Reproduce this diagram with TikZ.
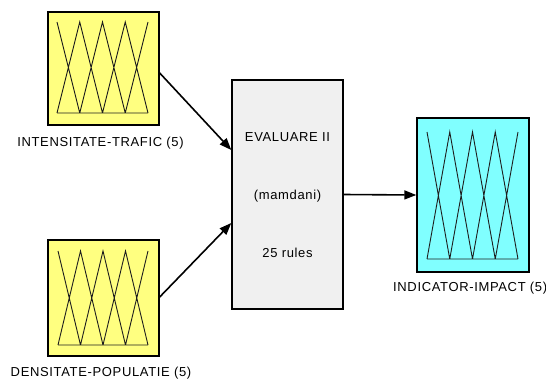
\documentclass[tikz,border=0pt]{standalone}
\usepackage{fontspec}
\setmainfont[LetterSpace=5]{Liberation Sans}
\usetikzlibrary{arrows.meta,calc}

\definecolor{inyellow}{RGB}{255,255,128}
\definecolor{outcyan}{RGB}{128,255,255}
\definecolor{rulegray}{RGB}{240,240,240}
\definecolor{mfline}{RGB}{30,30,30}

\tikzset{
  varbox/.style={draw=black, line width=1.4pt, inner sep=0pt},
  mf/.style={draw=mfline, line width=0.9pt, line join=miter},
  link/.style={draw=black, line width=1.6pt, -{Triangle[length=12pt,width=9pt]}},
  lbl/.style={font=\fontsize{13}{15}\selectfont, inner sep=0pt},
}

% five triangular membership functions inside a variable box
\newcommand\mfgrid[1]{%
  \draw[mf] let \p1=(#1-lo), \p2=(#1-hi), \n1={(\x2-\x1)/4} in
    (\x1,\y2) -- (\x1+\n1,\y1)
    (\x1,\y1) -- (\x1+\n1,\y2) -- (\x1+2*\n1,\y1)
    (\x1+\n1,\y1) -- (\x1+2*\n1,\y2) -- (\x1+3*\n1,\y1)
    (\x1+2*\n1,\y1) -- (\x1+3*\n1,\y2) -- (\x2,\y1)
    (\x1+3*\n1,\y1) -- (\x2,\y2)
    (\x1,\y1) -- (\x2,\y1);
}

\begin{document}
\begin{tikzpicture}[x=1pt,y=-1pt]
\useasboundingbox (0,0) rectangle (546,383);

% input variables
\node[varbox, fill=inyellow, minimum width=111pt, minimum height=113pt] (tl) at (103.5,68.5) {};
\node[varbox, fill=inyellow, minimum width=111pt, minimum height=116pt] (bl) at (103.5,298) {};
% rule block
\node[varbox, fill=rulegray, minimum width=111pt, minimum height=229pt] (cb) at (287.5,194.5) {};
% output variable
\node[varbox, fill=outcyan, minimum width=112pt, minimum height=154pt] (rb) at (473,195) {};

% plotting areas
\coordinate (tl-lo) at (57,113);  \coordinate (tl-hi) at (148,22);
\coordinate (bl-lo) at (58,345);  \coordinate (bl-hi) at (148,251);
\coordinate (rb-lo) at (427,259); \coordinate (rb-hi) at (518,132);
\mfgrid{tl}
\mfgrid{bl}
\mfgrid{rb}

% labels
\node[lbl] (tlt) at (100.5,143) {INTENSITATE-TRAFIC (5)};
\node[lbl] (blt) at (101,373) {DENSITATE-POPULATIE (5)};
\node[lbl, anchor=west] (rbt) at (393,288) {INDICATOR-IMPACT (5)};
\node[lbl] (c1) at (287.5,137) {EVALUARE II};
\node[lbl] (c2) at (287.5,196) {(mamdani)};
\node[lbl] (c3) at (287.5,253) {25 rules};

% connections
\draw[link] ([yshift=-4.5pt]tl.east) -- ([yshift=44.5pt]cb.west);
\draw[link] ([yshift=1pt]bl.east) -- ([yshift=-28.5pt]cb.west);
\draw[link] (cb.east) -- (rb.west);
\end{tikzpicture}
\end{document}
